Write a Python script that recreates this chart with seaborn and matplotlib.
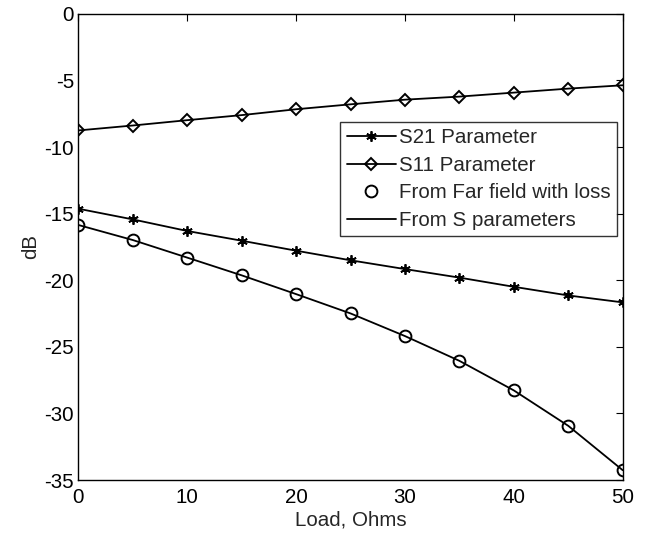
import matplotlib
matplotlib.use("Agg")
import matplotlib.pyplot as plt
import seaborn as sns
import pandas as pd

load = [0, 5, 10, 15, 20, 25, 30, 35, 40, 45, 50]
s21 = [-14.63, -15.43, -16.3, -17.03, -17.78, -18.5, -19.16, -19.8, -20.49, -21.14, -21.66]
s11 = [-8.75, -8.38, -7.98, -7.6, -7.16, -6.79, -6.44, -6.21, -5.91, -5.61, -5.36]
far_field = [-15.85, -16.98, -18.3, -19.63, -21.04, -22.49, -24.19, -26.05, -28.27, -30.93, -34.26]
s_param = [-15.85, -16.98, -18.3, -19.63, -21.04, -22.49, -24.19, -26.05, -28.27, -30.93, -34.26]

xticks = [0, 10, 20, 30, 40, 50]
yticks = [0, -5, -10, -15, -20, -25, -30, -35]

FS = 14.8
sns.set_style("white")
plt.rcParams['font.family'] = ['Liberation Sans', 'DejaVu Sans']
plt.rcParams['font.size'] = FS
plt.rcParams['axes.unicode_minus'] = False

df = pd.DataFrame({"load": load, "s21": s21, "s11": s11, "far": far_field, "sp": s_param})

fig = plt.figure(figsize=(6.48, 5.34), dpi=100)
ax = fig.add_axes([0.121, 0.101, 0.840, 0.873])

sns.lineplot(data=df, x="load", y="s21", ax=ax, color="black", lw=1.3,
             marker=(6, 2, 0), markersize=7.5, markeredgewidth=1.3, markeredgecolor="black",
             label="S21 Parameter")
sns.lineplot(data=df, x="load", y="s11", ax=ax, color="black", lw=1.3,
             marker="D", markersize=6.5, markerfacecolor="none", markeredgewidth=1.4,
             markeredgecolor="black", label="S11 Parameter")
sns.lineplot(data=df, x="load", y="far", ax=ax, color="black", lw=0,
             marker="o", markersize=8.5, markerfacecolor="none", markeredgewidth=1.4,
             markeredgecolor="black", label="From Far field with loss")
sns.lineplot(data=df, x="load", y="sp", ax=ax, color="black", lw=1.3,
             label="From S parameters")

ax.set_xlim(0, 50)
ax.set_ylim(-35, 0)
ax.set_xticks(xticks)
ax.set_yticks(yticks)
ax.set_xlabel("Load, Ohms", fontsize=FS, labelpad=2)
ax.set_ylabel("dB", fontsize=FS, labelpad=3)
ax.tick_params(direction="in", top=True, right=True, length=5, width=0.8,
               labelsize=FS, colors="black")
ax.tick_params(axis="x", pad=6)
ax.tick_params(axis="y", pad=3)
for s in ax.spines.values():
    s.set_visible(True)
    s.set_color("black")
    s.set_linewidth(1.0)

leg = ax.legend(loc="upper right", bbox_to_anchor=(0.989, 0.768), frameon=True,
                fancybox=False, edgecolor="black", fontsize=FS, handlelength=2.4,
                handletextpad=0.15, borderpad=0.3, labelspacing=0.42, borderaxespad=0)
leg.get_frame().set_linewidth(1.0)

fig.savefig("out.png", dpi=100)
